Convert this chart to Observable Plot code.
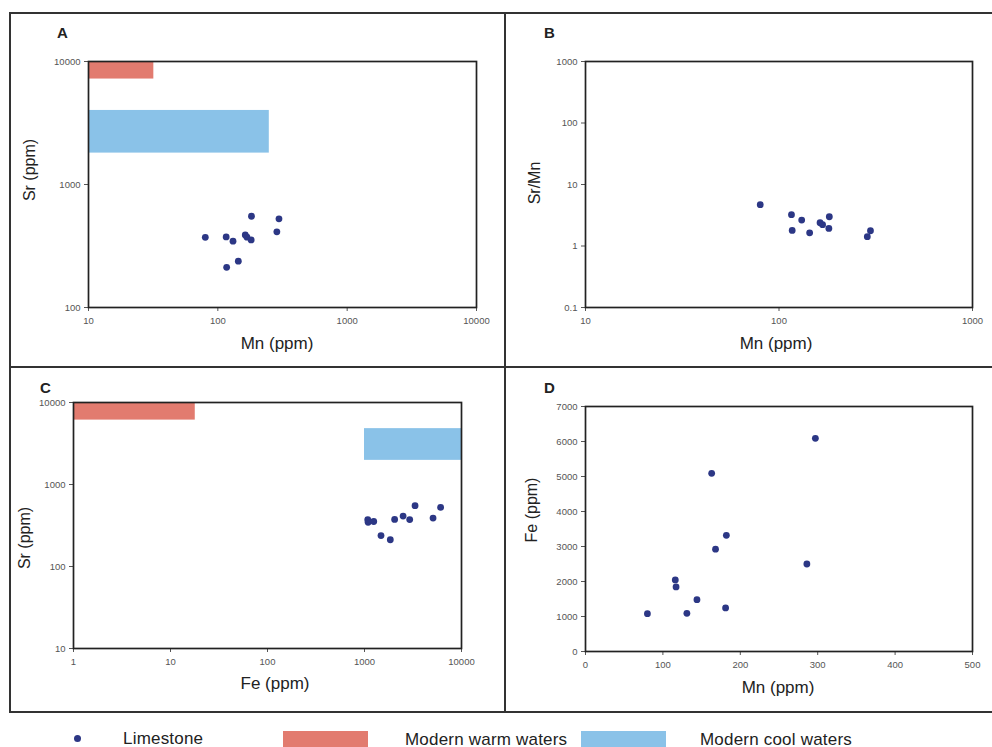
<!DOCTYPE html>
<html>
<head>
<meta charset="utf-8">
<script src="https://cdn.jsdelivr.net/npm/d3@7"></script>
<script src="https://cdn.jsdelivr.net/npm/@observablehq/plot@0.6"></script>
<style>
  html, body { margin: 0; padding: 0; background: #fff; }
  #root { position: relative; width: 992px; height: 747px; overflow: hidden; font-family: "Liberation Sans", Arial, sans-serif; color: #222; }
  .line { position: absolute; background: #333; }
  .letter { position: absolute; font-weight: bold; font-size: 15px; line-height: 15px; }
  .xl { position: absolute; font-size: 17px; line-height: 17px; transform: translate(-50%, -50%); white-space: nowrap; }
  .yl { position: absolute; font-size: 16px; line-height: 16px; transform: translate(-50%, -50%) rotate(-90deg); white-space: nowrap; }
  .leg { position: absolute; font-size: 17px; line-height: 17px; white-space: nowrap; transform: translateY(-50%); letter-spacing: 0.2px; }
</style>
</head>
<body>
<div id="root"></div>
<script>
// ---- data (11 limestone samples) ----
const mn   = [80, 116, 117, 131, 144, 163, 168, 182, 181, 286, 297];
const sr   = [372, 375, 212, 346, 238, 389, 373, 552, 354, 412, 526];
const fe   = [1080, 2045, 1845, 1090, 1480, 5090, 2925, 3320, 1245, 2500, 6090];
const srMn = [4.7, 3.23, 1.79, 2.64, 1.64, 2.39, 2.22, 2.99, 1.93, 1.42, 1.77];

// modern water fields (ranges)
const warmA = {x1: 10, x2: 32, y1: 7200, y2: 10000};
const coolA = {x1: 10, x2: 250, y1: 1800, y2: 4000};
const warmC = {x1: 1, x2: 18, y1: 6100, y2: 10000};
const coolC = {x1: 1000, x2: 10000, y1: 1970, y2: 4800};

// tick values
const ticksA_x = [10, 100, 1000, 10000];
const ticksA_y = [100, 1000, 10000];
const ticksB_x = [10, 100, 1000];
const ticksB_y = [0.1, 1, 10, 100, 1000];
const ticksC_x = [1, 10, 100, 1000, 10000];
const ticksC_y = [10, 100, 1000, 10000];
const ticksD_x = [0, 100, 200, 300, 400, 500];
const ticksD_y = [0, 1000, 2000, 3000, 4000, 5000, 6000, 7000];

const POINT = "#2c3785";
const WARM = "#e27b6f";
const COOL = "#8ac2e8";

const samples = mn.map((m, i) => ({mn: m, sr: sr[i], fe: fe[i], srmn: srMn[i]}));

const root = document.getElementById("root");

function place(el, left, top) {
  el.style.position = "absolute";
  el.style.left = left + "px";
  el.style.top = top + "px";
  root.appendChild(el);
}

function axes(xt, yt) {
  return [
    Plot.axisX({ticks: xt, tickFormat: d => String(d), tickSize: 4, tickPadding: 6, label: null, fontSize: 9.5, color: "#555"}),
    Plot.axisY({ticks: yt, tickFormat: d => String(d), tickSize: 4, tickPadding: 4, label: null, fontSize: 9.5, color: "#555"}),
    Plot.frame({stroke: "#222", strokeWidth: 1.7})
  ];
}

function rectMark(r, fill) {
  return Plot.rect([r], {x1: "x1", x2: "x2", y1: "y1", y2: "y2", fill});
}

const baseStyle = {background: "transparent", fontFamily: "'Liberation Sans', Arial, sans-serif"};

// Panel A
const A = Plot.plot({
  width: 490, height: 350,
  marginLeft: 76, marginRight: 26, marginTop: 46, marginBottom: 58,
  style: baseStyle,
  x: {type: "log", domain: [10, 10000]},
  y: {type: "log", domain: [100, 10000]},
  marks: [
    rectMark(warmA, WARM),
    rectMark(coolA, COOL),
    Plot.dot(samples, {x: "mn", y: "sr", r: 3.4, fill: POINT}),
    ...axes(ticksA_x, ticksA_y)
  ]
});
place(A, 12, 15);

// Panel B
const B = Plot.plot({
  width: 483, height: 350,
  marginLeft: 78, marginRight: 18, marginTop: 46, marginBottom: 58,
  style: baseStyle,
  x: {type: "log", domain: [10, 1000]},
  y: {type: "log", domain: [0.1, 1000]},
  marks: [
    Plot.dot(samples, {x: "mn", y: "srmn", r: 3.4, fill: POINT}),
    ...axes(ticksB_x, ticksB_y)
  ]
});
place(B, 507, 15);

// Panel C
const C = Plot.plot({
  width: 490, height: 341,
  marginLeft: 61, marginRight: 41, marginTop: 33, marginBottom: 62,
  style: baseStyle,
  x: {type: "log", domain: [1, 10000]},
  y: {type: "log", domain: [10, 10000]},
  marks: [
    rectMark(warmC, WARM),
    rectMark(coolC, COOL),
    Plot.dot(samples, {x: "fe", y: "sr", r: 3.4, fill: POINT}),
    ...axes(ticksC_x, ticksC_y)
  ]
});
place(C, 12, 369);

// Panel D
const D = Plot.plot({
  width: 483, height: 341,
  marginLeft: 78, marginRight: 18, marginTop: 37, marginBottom: 59,
  style: baseStyle,
  x: {domain: [0, 500]},
  y: {domain: [0, 7000]},
  marks: [
    Plot.dot(samples, {x: "mn", y: "fe", r: 3.4, fill: POINT}),
    ...axes(ticksD_x, ticksD_y)
  ]
});
place(D, 507, 369);

// panel frame lines
function line(l, t, w, h) {
  const d = document.createElement("div");
  d.className = "line";
  d.style.left = l + "px"; d.style.top = t + "px";
  d.style.width = w + "px"; d.style.height = h + "px";
  root.appendChild(d);
}
line(9, 12, 983, 2);
line(9, 366, 983, 2);
line(9, 711, 983, 2);
line(9, 12, 2, 701);
line(504, 12, 2, 701);

// text helpers
function txt(cls, s, x, y) {
  const d = document.createElement("div");
  d.className = cls;
  d.textContent = s;
  d.style.left = x + "px"; d.style.top = y + "px";
  root.appendChild(d);
  return d;
}
txt("letter", "A", 57, 25);
txt("letter", "B", 544, 25);
txt("letter", "C", 40, 380);
txt("letter", "D", 544, 380);

txt("yl", "Sr (ppm)", 30, 170);
txt("xl", "Mn (ppm)", 277, 343);
txt("yl", "Sr/Mn", 535, 183);
txt("xl", "Mn (ppm)", 776, 343);
txt("yl", "Sr (ppm)", 25, 538);
txt("xl", "Fe (ppm)", 275, 683);
txt("yl", "Fe (ppm)", 532, 510);
txt("xl", "Mn (ppm)", 778, 687);

// legend
const dot = document.createElement("div");
dot.style.cssText = `position:absolute;left:74px;top:735px;width:7px;height:7px;border-radius:50%;background:${POINT}`;
root.appendChild(dot);
txt("leg", "Limestone", 123, 738);
const sw1 = document.createElement("div");
sw1.style.cssText = `position:absolute;left:283px;top:731px;width:85px;height:16px;background:${WARM}`;
root.appendChild(sw1);
txt("leg", "Modern warm waters", 405, 739);
const sw2 = document.createElement("div");
sw2.style.cssText = `position:absolute;left:581px;top:731px;width:85px;height:16px;background:${COOL}`;
root.appendChild(sw2);
txt("leg", "Modern cool waters", 700, 739);
</script>
</body>
</html>
